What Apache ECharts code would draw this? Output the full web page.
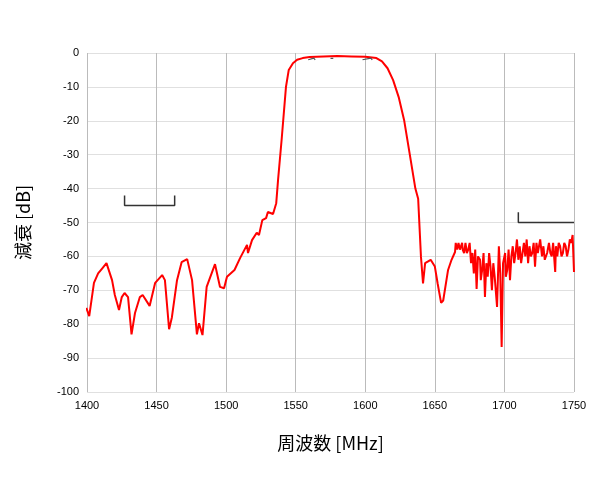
<!DOCTYPE html><html><head><meta charset="utf-8"><script src="https://cdn.jsdelivr.net/npm/echarts@6/dist/echarts.min.js"></script></head><body style="margin:0"><div id="c" style="width:600px;height:480px"></div><script>
const response=[[1399.5,-75.2],[1401.6,-77.6],[1405,-67.8],[1408,-65],[1411,-63.5],[1414,-62],[1418,-67],[1420,-71.4],[1423,-75.8],[1425,-72],[1427,-70.8],[1429.5,-72],[1432,-83],[1434.5,-76.7],[1438,-72],[1440,-71.4],[1445,-74.6],[1449,-67.8],[1454,-65.5],[1456,-67],[1459,-81.5],[1461,-78],[1464.7,-67],[1468,-61.7],[1472,-60.8],[1475.5,-67],[1479,-83],[1480.5,-79.7],[1483,-83.2],[1486,-69],[1492,-62.3],[1495.6,-69],[1498.5,-69.4],[1500.6,-66],[1506,-64],[1510,-60.5],[1515,-56.6],[1515.7,-59],[1518.6,-55.2],[1522,-53],[1523.6,-53.7],[1526,-49.3],[1528.7,-48.7],[1530,-46.9],[1533.7,-47.5],[1536,-44.3],[1537.3,-37.5],[1540,-25],[1543,-10],[1545,-5],[1548,-3],[1551,-2],[1555,-1.5],[1560,-1.2],[1570,-1],[1580,-0.9],[1590,-1],[1600,-1.1],[1608,-1.5],[1612,-2.5],[1616,-4.5],[1620,-8],[1624,-13],[1628,-20],[1632,-30],[1636,-40],[1638,-43],[1640,-60],[1641.5,-68],[1643,-62],[1647,-61],[1650,-63],[1652,-68],[1654.5,-73.7],[1656,-73],[1659.5,-64],[1662,-61],[1664.5,-58.7],[1665,-56],[1666,-58],[1667,-56],[1668,-58],[1669.6,-56],[1670,-58],[1671,-59],[1672,-56],[1673,-59],[1674,-58],[1675,-56],[1676,-62],[1677,-59],[1678,-65],[1679,-58],[1680,-69.6],[1681,-60],[1682.5,-61],[1683,-67],[1684,-64],[1685,-59],[1686,-72],[1687,-62],[1688,-66],[1689,-59],[1690,-63],[1691,-70],[1692,-62],[1693,-66],[1694.7,-74.9],[1696,-57],[1697,-65],[1698,-86.7],[1699,-62],[1700.5,-59],[1701,-66],[1702,-64],[1703,-58],[1704,-67],[1705,-60],[1706,-57],[1707,-62],[1708,-59],[1709,-55],[1710,-61],[1711,-57],[1712,-62],[1712.7,-60],[1714,-56],[1715,-60],[1716,-55],[1717,-62],[1718,-57],[1719,-60],[1720,-59],[1721,-56],[1722,-63],[1723,-56],[1724,-59],[1725.7,-55],[1727,-60],[1728,-57],[1729,-61],[1730.7,-59],[1732,-56],[1733,-59],[1734,-60],[1735,-56],[1736.5,-64.6],[1737,-57],[1738,-60],[1739,-56],[1740,-57],[1741,-60],[1742,-59],[1743,-56],[1744,-57],[1745,-60],[1746,-58],[1747,-55],[1748,-56],[1749,-53.7],[1750,-64.6]];
const bracketLeft=[[1427,-42],[1427,-45],[1463,-45],[1463,-42]];
const bracketRight=[[1710,-47],[1710,-50],[1750,-50]];
const marks=[[[1559,-2],[1560,-1.5],[1563,-1.5],[1564,-2]],[[1575,-1.6],[1576,-1.3],[1577,-1.6]],[[1598,-2],[1599,-1.5],[1604,-1.5],[1605,-2]]];
const c=echarts.init(document.getElementById('c'));
const ser=[{type:'line',data:response,showSymbol:false,lineStyle:{color:'#ff0000',width:2},z:3},
{type:'line',data:bracketLeft,showSymbol:false,lineStyle:{color:'#333',width:1.5}},
{type:'line',data:bracketRight,showSymbol:false,lineStyle:{color:'#333',width:1.5}}];
marks.forEach(m=>ser.push({type:'line',data:m,showSymbol:false,lineStyle:{color:'#555',width:1.2},z:4}));
c.setOption({animation:false,grid:{left:87,right:26,top:53,bottom:88},
xAxis:{type:'value',min:1400,max:1750,interval:50,name:'周波数 [MHz]',nameLocation:'middle',nameGap:42,nameTextStyle:{fontSize:18,color:'#000',fontFamily:'Noto Sans CJK JP'},axisLine:{show:false},axisTick:{show:false},axisLabel:{color:'#000',fontSize:11,formatter:v=>String(v)},splitLine:{lineStyle:{color:'#bbb'}}},
yAxis:{type:'value',min:-100,max:0,interval:10,name:'減衰 [dB]',nameLocation:'middle',nameGap:55,nameTextStyle:{fontSize:18,color:'#000',fontFamily:'Noto Sans CJK JP'},axisLine:{show:false},axisTick:{show:false},axisLabel:{color:'#000',fontSize:11},splitLine:{lineStyle:{color:'#e0e0e0'}}},
series:ser});
</script></body></html>
